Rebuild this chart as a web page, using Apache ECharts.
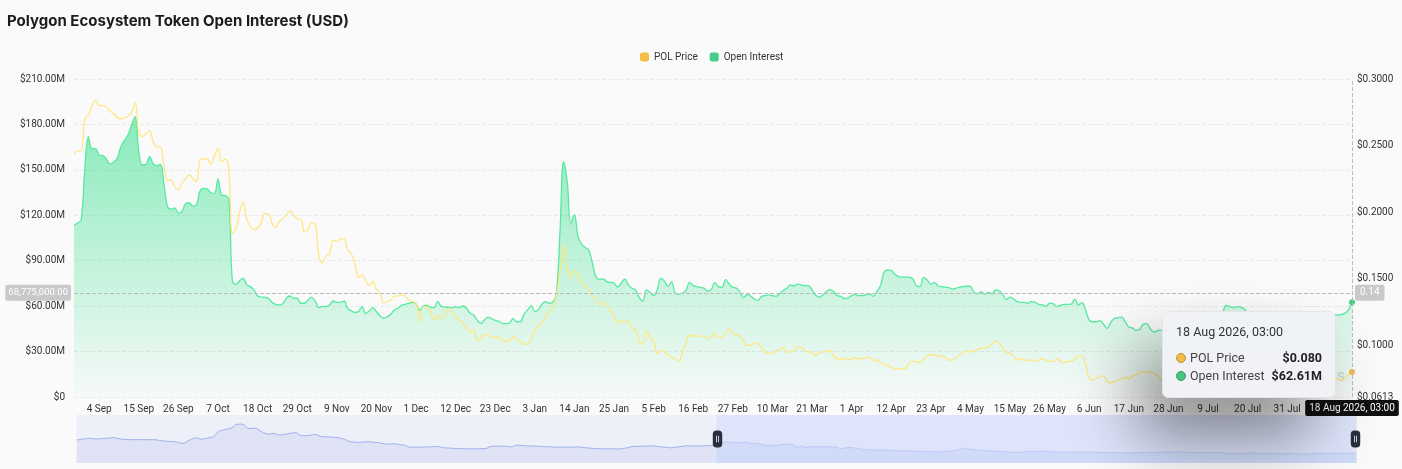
<!DOCTYPE html>
<html>
<head>
<meta charset="utf-8">
<script src="https://cdn.jsdelivr.net/npm/echarts@6/dist/echarts.min.js"></script>
<style>
  html,body{margin:0;padding:0;background:#fafafa;}
  #chart{width:1402px;height:469px;}
</style>
</head>
<body>
<div id="chart"></div>
<script>
// ---------- DATA ----------
// Daily categories: 7 Sep 2024 ... 18 Aug 2026 (03:00 snapshot)
const START_DATE = '2024-09-07';
const DAY_COUNT = 711;
const MONTHS = ['Jan','Feb','Mar','Apr','May','Jun','Jul','Aug','Sep','Oct','Nov','Dec'];

// POL price before the visible window (read from the zoom slider shadow), USD
const priceEarly = [
0.320,0.324,0.329,0.333,0.338,0.342,0.347,0.351,0.348,0.345,
0.342,0.340,0.339,0.342,0.345,0.348,0.351,0.354,0.357,0.360,
0.362,0.364,0.357,0.349,0.340,0.333,0.331,0.330,0.328,0.327,
0.326,0.327,0.325,0.326,0.328,0.326,0.325,0.327,0.326,0.325,
0.326,0.327,0.326,0.325,0.326,0.318,0.312,0.306,0.302,0.299,
0.297,0.295,0.293,0.291,0.289,0.288,0.280,0.270,0.262,0.257,
0.265,0.285,0.305,0.322,0.336,0.352,0.362,0.355,0.343,0.333,
0.338,0.345,0.350,0.356,0.362,0.368,0.376,0.410,0.450,0.485,
0.493,0.500,0.510,0.519,0.528,0.533,0.540,0.565,0.595,0.608,
0.613,0.616,0.612,0.603,0.570,0.535,0.530,0.534,0.538,0.540,
0.530,0.512,0.490,0.468,0.450,0.440,0.432,0.427,0.436,0.445,
0.435,0.424,0.416,0.414,0.418,0.422,0.427,0.433,0.440,0.446,
0.450,0.455,0.458,0.430,0.404,0.400,0.403,0.401,0.404,0.402,
0.410,0.418,0.426,0.420,0.405,0.390,0.383,0.381,0.380,0.378,
0.377,0.374,0.371,0.368,0.366,0.364,0.356,0.348,0.341,0.333,
0.310,0.295,0.288,0.285,0.282,0.279,0.277,0.276,0.280,0.283,
0.285,0.287,0.288,0.285,0.281,0.278,0.275,0.272,0.269,0.262,
0.255,0.249,0.245,0.244,0.246,0.248,0.249,0.250,0.242,0.235,
0.230,0.227,0.224,0.212,0.198,0.187,0.186,0.188,0.187,0.186,
0.187,0.188,0.189,0.190,0.191,0.192,0.193,0.194,0.196,0.198,
0.199,0.200,0.192,0.183,0.176,0.174,0.172,0.170,0.168,0.166,
0.164,0.162,0.161,0.160,0.159,0.158,0.157,0.157,0.156,0.156,
0.156,0.156,0.157,0.158,0.159,0.160,0.161,0.162,0.175,0.192,
0.201,0.206,0.207,0.206,0.205,0.206,0.207,0.206,0.203,0.199,
0.196,0.194,0.200,0.212,0.222,0.225,0.221,0.217,0.214,0.212,
0.211,0.210,0.209,0.208,0.207,0.206,0.204,0.202,0.200,0.198,
0.196,0.195,0.194,0.192,0.191,0.189,0.188,0.187,0.187,0.187,
0.186,0.187,0.187,0.188,0.187,0.189,0.190,0.192,0.194,0.190,
0.185,0.180,0.177,0.175,0.172,0.169,0.166,0.164,0.162,0.160,
0.159,0.158,0.157,0.157,0.156,0.156,0.156,0.157,0.156,0.157,
0.156,0.156,0.158,0.163,0.168,0.173,0.177,0.188,0.199,0.201,
0.202,0.203,0.204,0.205,0.206,0.206,0.208,0.210,0.211,0.213,
0.210,0.206,0.202,0.198,0.194,0.191,0.188,0.186,0.182,0.178,
0.175,0.179,0.184,0.188,0.192,0.197,0.202,0.207,0.212,0.213,
0.211,0.209,0.207,0.206,0.207,0.209,0.211,0.212,0.213,0.214,
0.215,0.216,0.218,0.219,0.232
];

// POL price in the visible window (28 Aug 2025 .. 18 Aug 2026), USD
const priceWindow = [
0.244,0.246,0.246,0.270,0.273,0.280,0.284,0.280,0.280,0.279,
0.276,0.274,0.271,0.270,0.271,0.272,0.275,0.282,0.260,0.257,
0.259,0.261,0.253,0.249,0.249,0.235,0.224,0.224,0.219,0.217,
0.222,0.225,0.228,0.225,0.223,0.239,0.240,0.240,0.236,0.242,
0.248,0.238,0.240,0.232,0.184,0.188,0.200,0.208,0.195,0.189,
0.187,0.188,0.192,0.199,0.199,0.192,0.188,0.193,0.195,0.198,
0.201,0.198,0.195,0.195,0.185,0.187,0.192,0.191,0.167,0.162,
0.167,0.169,0.179,0.178,0.180,0.180,0.172,0.169,0.162,0.151,
0.153,0.149,0.145,0.148,0.142,0.139,0.132,0.133,0.134,0.137,
0.137,0.138,0.137,0.134,0.133,0.132,0.118,0.129,0.129,0.126,
0.119,0.123,0.120,0.123,0.128,0.125,0.121,0.119,0.117,0.113,
0.110,0.112,0.104,0.105,0.108,0.108,0.106,0.106,0.106,0.104,
0.103,0.103,0.107,0.104,0.103,0.101,0.101,0.105,0.111,0.114,
0.117,0.122,0.125,0.128,0.138,0.155,0.176,0.158,0.151,0.156,
0.153,0.147,0.144,0.142,0.137,0.135,0.130,0.132,0.130,0.126,
0.122,0.117,0.118,0.118,0.118,0.113,0.112,0.103,0.101,0.111,
0.106,0.104,0.094,0.096,0.095,0.093,0.091,0.090,0.088,0.095,
0.102,0.108,0.107,0.107,0.107,0.107,0.105,0.106,0.109,0.106,
0.106,0.110,0.112,0.109,0.108,0.107,0.103,0.100,0.100,0.102,
0.101,0.098,0.095,0.094,0.094,0.096,0.097,0.098,0.095,0.095,
0.096,0.099,0.099,0.096,0.095,0.095,0.092,0.095,0.095,0.096,
0.096,0.092,0.090,0.090,0.090,0.089,0.090,0.091,0.090,0.090,
0.091,0.091,0.089,0.089,0.087,0.086,0.085,0.084,0.082,0.083,
0.082,0.083,0.087,0.088,0.088,0.087,0.090,0.092,0.093,0.093,
0.092,0.092,0.091,0.089,0.089,0.091,0.093,0.094,0.096,0.095,
0.096,0.097,0.098,0.098,0.099,0.101,0.103,0.102,0.098,0.095,
0.094,0.092,0.089,0.090,0.089,0.089,0.089,0.088,0.089,0.090,
0.089,0.088,0.088,0.090,0.088,0.087,0.088,0.088,0.090,0.092,
0.092,0.085,0.075,0.074,0.075,0.077,0.077,0.073,0.072,0.073,
0.074,0.075,0.076,0.075,0.077,0.078,0.080,0.080,0.080,0.080,
0.079,0.077,0.074,0.071,
0.070,0.069,0.069,0.070,0.071,0.072,0.072,0.071,0.070,0.069,
0.068,0.067,0.066,0.067,0.068,0.069,0.070,0.070,0.069,0.068,
0.066,0.064,0.062,0.0613,0.063,0.065,0.067,0.068,0.069,0.070,
0.071,0.072,0.072,0.073,0.074,0.074,0.075,0.075,0.076,0.076,
0.075,0.075,0.076,0.077,0.076,0.076,0.075,
0.075,0.074,0.075,0.078,0.080
];

// Open interest in the visible window, millions of USD
const oiWindowM = [
113.6,114.9,116.9,150.0,172.0,164.0,164.0,159.8,159.4,157.2,
153.9,155.0,157.6,165.1,169.5,173.0,179.6,185.1,162.0,153.2,
153.6,158.7,154.1,152.8,153.6,140.0,125.5,124.1,124.8,121.3,
122.8,127.7,128.3,126.1,126.8,136.0,137.8,137.4,134.9,134.5,
144.0,133.4,133.0,131.0,76.2,74.4,76.8,78.4,74.0,72.9,
70.7,66.7,66.0,65.8,65.2,62.5,61.2,60.8,61.6,65.2,
66.7,65.2,65.2,61.9,61.9,64.1,65.8,63.4,59.0,59.9,
59.7,60.8,63.4,62.5,62.5,63.4,58.6,57.0,55.9,56.4,
59.7,55.0,56.8,59.0,56.4,53.7,52.0,53.0,54.6,57.5,
58.6,60.5,61.2,61.9,62.5,61.6,57.2,60.1,60.5,59.4,
59.0,63.0,59.9,59.4,59.2,59.0,59.7,59.0,60.1,58.6,
55.5,54.1,50.8,48.6,50.8,52.8,51.7,50.6,50.0,48.6,
48.4,48.9,51.7,49.7,49.7,54.6,57.5,60.3,56.4,57.7,
61.4,63.0,61.9,62.5,68.5,109.2,155.4,142.2,114.7,120.2,
105.9,101.0,98.8,97.1,88.3,79.2,77.7,77.9,76.2,75.7,
75.3,72.6,75.1,77.9,74.0,71.8,70.7,65.6,63.4,70.7,
69.1,66.9,70.7,78.4,76.6,73.3,76.2,68.5,68.0,68.5,
70.4,75.7,73.7,72.9,72.4,71.8,70.0,70.9,75.5,72.9,
72.4,77.5,74.6,72.4,72.0,69.1,65.6,67.8,66.5,64.7,
63.8,66.5,66.9,67.4,66.9,66.5,68.2,70.4,71.8,74.0,
73.3,74.6,74.0,73.5,73.5,70.7,67.4,66.0,67.4,69.6,
70.9,69.6,66.9,66.5,64.9,65.4,66.9,67.8,66.9,66.9,
67.6,68.2,66.5,69.6,73.5,82.3,83.9,83.6,81.0,79.5,
79.2,79.2,79.2,77.9,73.5,72.9,78.8,77.3,74.4,75.7,
73.5,72.9,72.6,72.2,71.3,71.8,72.6,72.9,73.3,73.1,
69.1,68.2,69.6,67.8,69.1,68.2,70.7,70.2,67.8,64.3,
66.0,64.7,63.0,62.5,62.5,61.9,63.2,62.5,61.2,60.8,
59.9,61.9,61.6,59.9,60.5,61.2,61.2,61.4,64.7,60.8,
62.3,57.5,50.8,49.7,49.7,50.4,48.0,45.3,49.3,51.9,
52.4,52.8,49.7,46.2,45.6,44.0,44.7,48.0,48.4,44.9,
42.9,43.8,44.2,44.2,
44.5,45.0,46.0,47.0,48.0,49.0,49.5,50.0,50.5,51.0,51.5,52.0,52.5,53.0,54.0,55.5,
60.5,59.8,59.0,59.7,59.4,58.2,
55.5,54.8,54.0,53.5,53.0,52.5,52.0,52.5,53.0,53.5,
54.0,54.5,55.0,55.5,56.0,55.5,55.0,54.5,54.0,53.5,
53.5,54.0,54.0,54.2,54.2,
54.1,54.6,55.2,57.5,62.61
];

const leftTicksM = [0, 30, 60, 90, 120, 150, 180, 210];
const rightTicks = [0.0613, 0.1, 0.15, 0.2, 0.25, 0.3];
const hoverOI = 68775000; // cross-hair level shown in the reference

// ---------- BUILD ----------
function pad(n){ return (n < 10 ? '0' : '') + n; }
const startMs = Date.parse(START_DATE + 'T00:00:00Z');
const categories = [];
for (let i = 0; i < DAY_COUNT; i++) {
  const d = new Date(startMs + i * 86400000);
  categories.push(d.getUTCFullYear() + '-' + pad(d.getUTCMonth() + 1) + '-' + pad(d.getUTCDate()) + ' 03:00');
}
function parts(s){ const [date, time] = s.split(' '); const [y,m,d] = date.split('-').map(Number); return {y, m, d, time}; }
function fmtShort(s){ const p = parts(s); return p.d + ' ' + MONTHS[p.m - 1]; }
function fmtLong(s){ const p = parts(s); return p.d + ' ' + MONTHS[p.m - 1] + ' ' + p.y + ', ' + p.time; }

const windowStart = priceEarly.length;
const priceAll = priceEarly.concat(priceWindow);
const oiAll = new Array(windowStart).fill(null).concat(oiWindowM.map(v => v * 1e6));

const chart = echarts.init(document.getElementById('chart'), null, {renderer: 'canvas'});
const TITLE_FONT = 'Inter, "Noto Sans", sans-serif';
const FONT = 'Roboto, "Noto Sans", sans-serif';

const option = {
  backgroundColor: '#fafafa',
  animation: false,
  textStyle: {fontFamily: FONT},
  title: {
    text: 'Polygon Ecosystem Token Open Interest (USD)',
    left: 2, top: 9,
    textStyle: {fontSize: 15, fontWeight: 700, color: '#1b1b1b', fontFamily: TITLE_FONT}
  },
  legend: {
    top: 47, left: 635,
    icon: 'roundRect', itemWidth: 9, itemHeight: 9, itemGap: 12,
    textStyle: {fontSize: 10, color: '#333', fontFamily: FONT}
  },
  grid: {left: 74, right: 50, top: 79, bottom: 72, outerBoundsMode: 'none'},
  tooltip: {
    trigger: 'axis',
    alwaysShowContent: true,
    transitionDuration: 0,
    axisPointer: {
      type: 'cross',
      lineStyle: {color: '#bdbdbd', type: 'dashed', width: 1},
      crossStyle: {color: '#bdbdbd', type: 'dashed', width: 1}
    },
    position: function(){ return [1162, 311]; },
    backgroundColor: 'rgba(239,242,246,0.97)',
    borderColor: '#e2e6eb',
    borderWidth: 1,
    padding: [12, 13],
    extraCssText: 'border-radius:7px;box-shadow:-24px 40px 64px rgba(0,0,0,0.44);',
    formatter: function(params){
      let html = '<div style="font-family:Roboto,sans-serif;width:146px;color:#333;font-size:12.5px;">';
      html += '<div style="line-height:16px;margin-bottom:9px;">' + fmtLong(params[0].axisValue) + '</div>';
      params.forEach(function(p){
        const isPrice = p.seriesIndex === 0;
        const fill = isPrice ? '#F0BB44' : '#44C982';
        const bd = isPrice ? '#b99436' : '#2f9d62';
        const val = p.value == null ? '-' : (isPrice ? '$' + Number(p.value).toFixed(3) : '$' + (p.value / 1e6).toFixed(2) + 'M');
        html += '<div style="display:flex;justify-content:space-between;align-items:center;line-height:18px;">' +
          '<span style="display:flex;align-items:center;color:#444;"><span style="display:inline-block;width:8px;height:8px;border-radius:50%;background:' + fill + ';border:1px solid ' + bd + ';margin-right:4px;"></span>' + p.seriesName + '</span>' +
          '<span style="font-weight:700;color:#222;">' + val + '</span></div>';
      });
      return html + '</div>';
    }
  },
  xAxis: {
    type: 'category',
    data: categories,
    boundaryGap: false,
    axisLine: {show: false},
    axisTick: {show: false},
    splitLine: {show: false},
    axisLabel: {
      color: '#333', fontSize: 10, margin: 7,
      interval: function(index){ return index % 11 === 10; },
      formatter: function(v){ return fmtShort(v); }
    },
    axisPointer: {
      label: {
        backgroundColor: '#111', color: '#fff', fontSize: 10, padding: [3, 4], borderRadius: 2,
        formatter: function(p){ return fmtLong(p.value); }
      }
    }
  },
  yAxis: [
    {
      type: 'value', position: 'left',
      min: leftTicksM[0] * 1e6, max: leftTicksM[leftTicksM.length - 1] * 1e6, interval: 30e6,
      axisLine: {show: false}, axisTick: {show: false},
      splitLine: {show: true, lineStyle: {color: '#e9e9e9', type: 'dashed'}},
      axisLabel: {
        color: '#333', fontSize: 10, margin: 9,
        formatter: function(v){ return v === 0 ? '$0' : '$' + (v / 1e6).toFixed(2) + 'M'; }
      },
      axisPointer: {
        label: {
          backgroundColor: '#c9c9c9', color: '#fff', fontSize: 9.5, padding: [3, 3], borderRadius: 2,
          formatter: function(p){ return Number(p.value).toLocaleString('en-US', {minimumFractionDigits: 2, maximumFractionDigits: 2}); }
        }
      }
    },
    {
      type: 'value', position: 'right',
      min: rightTicks[0], max: rightTicks[rightTicks.length - 1],
      axisLine: {show: false},
      axisTick: {show: false, customValues: rightTicks},
      splitLine: {show: false},
      axisLabel: {
        color: '#333', fontSize: 10, margin: 5,
        customValues: rightTicks,
        formatter: function(v){ return '$' + Number(v).toFixed(4); }
      },
      axisPointer: {
        label: {
          backgroundColor: '#c9c9c9', color: '#fff', fontSize: 10, padding: [3, 5], borderRadius: 2,
          formatter: function(p){ return Number(p.value).toFixed(2); }
        }
      }
    }
  ],
  dataZoom: [{
    type: 'slider',
    xAxisIndex: 0,
    startValue: windowStart,
    endValue: DAY_COUNT - 1,
    left: 74, right: 48, top: 415, height: 48,
    showDetail: false,
    brushSelect: false,
    moveHandleSize: 0,
    borderColor: 'transparent',
    backgroundColor: 'rgba(226,230,247,0.55)',
    fillerColor: 'rgba(205,214,250,0.45)',
    dataBackground: {
      lineStyle: {color: '#9fb0ec', width: 1, opacity: 1},
      areaStyle: {color: '#d9def4', opacity: 0.7}
    },
    selectedDataBackground: {
      lineStyle: {color: '#aebdf1', width: 1, opacity: 1},
      areaStyle: {color: '#c3cff5', opacity: 0.6}
    },
    handleIcon: 'path://M4,0H6A4,4,0,0,1,10,4V14A4,4,0,0,1,6,18H4A4,4,0,0,1,0,14V4A4,4,0,0,1,4,0Z M3.5,5.5V12.5H4.4V5.5Z M5.6,5.5V12.5H6.5V5.5Z',
    handleSize: 17,
    handleStyle: {color: '#2b2f3d', borderWidth: 0},
    emphasis: {handleStyle: {color: '#2b2f3d', borderWidth: 0}}
  }],
  graphic: [{
    type: 'text', right: 57, top: 369, z: 1, silent: true,
    style: {text: 'coinglass', fontSize: 16, fill: 'rgba(185,185,185,0.6)', fontFamily: FONT}
  }],
  series: [
    {
      name: 'POL Price',
      type: 'line',
      yAxisIndex: 1,
      data: priceAll,
      smooth: 0.4,
      showSymbol: false,
      symbol: 'circle', symbolSize: 4,
      z: 3,
      itemStyle: {color: '#F2BE46'},
      lineStyle: {color: '#FDD277', width: 1.3},
      emphasis: {focus: 'none', lineStyle: {width: 1.3}}
    },
    {
      name: 'Open Interest',
      type: 'line',
      yAxisIndex: 0,
      data: oiAll,
      smooth: 0.4,
      showSymbol: false,
      symbol: 'circle', symbolSize: 5,
      z: 2,
      itemStyle: {color: '#46CC88'},
      lineStyle: {color: '#4FD493', width: 1.3},
      areaStyle: {
        color: new echarts.graphic.LinearGradient(0, 0, 0, 1, [
          {offset: 0, color: 'rgba(64,206,136,0.9)'},
          {offset: 1, color: 'rgba(64,206,136,0.03)'}
        ])
      },
      emphasis: {focus: 'none', lineStyle: {width: 1.3}}
    }
  ]
};

chart.setOption(option);

// show the cross-hair + tooltip on the last day at the reference's hover level
const yPix = chart.convertToPixel({yAxisIndex: 0}, hoverOI);
const xPix = chart.convertToPixel({xAxisIndex: 0}, DAY_COUNT - 1);
chart.dispatchAction({type: 'showTip', x: xPix - 0.5, y: yPix});
</script>
</body>
</html>
